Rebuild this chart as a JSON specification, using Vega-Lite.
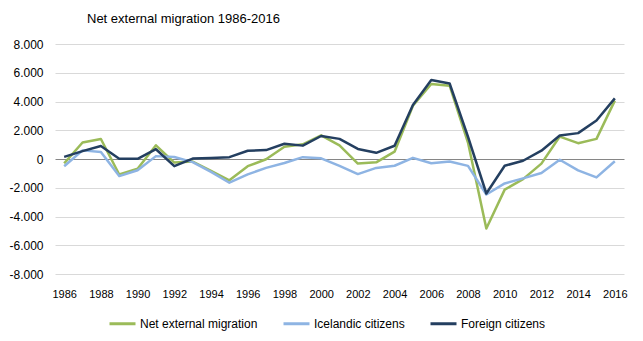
{
  "$schema": "https://vega.github.io/schema/vega-lite/v6.json",
  "autosize": {"type": "none"},
  "padding": {"left": 55, "top": 44, "right": 19, "bottom": 67},
  "width": 569,
  "height": 230,
  "background": "white",
  "title": {
    "text": "Net external migration 1986-2016",
    "anchor": "start",
    "frame": "group",
    "dx": 32,
    "offset": 12,
    "font": "Liberation Sans",
    "fontSize": 13,
    "fontWeight": "normal",
    "color": "#000000"
  },
  "config": {
    "view": {"stroke": null},
    "font": "Liberation Sans"
  },
  "data": {
    "values": [
      {"year": 1986, "series": "Net external migration", "value": -300},
      {"year": 1987, "series": "Net external migration", "value": 1150},
      {"year": 1988, "series": "Net external migration", "value": 1390},
      {"year": 1989, "series": "Net external migration", "value": -1080},
      {"year": 1990, "series": "Net external migration", "value": -680},
      {"year": 1991, "series": "Net external migration", "value": 950},
      {"year": 1992, "series": "Net external migration", "value": -250},
      {"year": 1993, "series": "Net external migration", "value": -180},
      {"year": 1994, "series": "Net external migration", "value": -830},
      {"year": 1995, "series": "Net external migration", "value": -1480},
      {"year": 1996, "series": "Net external migration", "value": -500},
      {"year": 1997, "series": "Net external migration", "value": -20},
      {"year": 1998, "series": "Net external migration", "value": 850},
      {"year": 1999, "series": "Net external migration", "value": 1020},
      {"year": 2000, "series": "Net external migration", "value": 1650},
      {"year": 2001, "series": "Net external migration", "value": 950},
      {"year": 2002, "series": "Net external migration", "value": -320},
      {"year": 2003, "series": "Net external migration", "value": -230},
      {"year": 2004, "series": "Net external migration", "value": 510},
      {"year": 2005, "series": "Net external migration", "value": 3700},
      {"year": 2006, "series": "Net external migration", "value": 5220},
      {"year": 2007, "series": "Net external migration", "value": 5100},
      {"year": 2008, "series": "Net external migration", "value": 1140},
      {"year": 2009, "series": "Net external migration", "value": -4840},
      {"year": 2010, "series": "Net external migration", "value": -2130},
      {"year": 2011, "series": "Net external migration", "value": -1400},
      {"year": 2012, "series": "Net external migration", "value": -320},
      {"year": 2013, "series": "Net external migration", "value": 1560},
      {"year": 2014, "series": "Net external migration", "value": 1100},
      {"year": 2015, "series": "Net external migration", "value": 1400},
      {"year": 2016, "series": "Net external migration", "value": 4060},
      {"year": 1986, "series": "Icelandic citizens", "value": -500},
      {"year": 1987, "series": "Icelandic citizens", "value": 600},
      {"year": 1988, "series": "Icelandic citizens", "value": 490},
      {"year": 1989, "series": "Icelandic citizens", "value": -1190},
      {"year": 1990, "series": "Icelandic citizens", "value": -780},
      {"year": 1991, "series": "Icelandic citizens", "value": 200},
      {"year": 1992, "series": "Icelandic citizens", "value": 140},
      {"year": 1993, "series": "Icelandic citizens", "value": -220},
      {"year": 1994, "series": "Icelandic citizens", "value": -900},
      {"year": 1995, "series": "Icelandic citizens", "value": -1650},
      {"year": 1996, "series": "Icelandic citizens", "value": -1070},
      {"year": 1997, "series": "Icelandic citizens", "value": -620},
      {"year": 1998, "series": "Icelandic citizens", "value": -280},
      {"year": 1999, "series": "Icelandic citizens", "value": 130},
      {"year": 2000, "series": "Icelandic citizens", "value": 50},
      {"year": 2001, "series": "Icelandic citizens", "value": -480},
      {"year": 2002, "series": "Icelandic citizens", "value": -1050},
      {"year": 2003, "series": "Icelandic citizens", "value": -620},
      {"year": 2004, "series": "Icelandic citizens", "value": -470},
      {"year": 2005, "series": "Icelandic citizens", "value": 80},
      {"year": 2006, "series": "Icelandic citizens", "value": -300},
      {"year": 2007, "series": "Icelandic citizens", "value": -170},
      {"year": 2008, "series": "Icelandic citizens", "value": -480},
      {"year": 2009, "series": "Icelandic citizens", "value": -2470},
      {"year": 2010, "series": "Icelandic citizens", "value": -1700},
      {"year": 2011, "series": "Icelandic citizens", "value": -1350},
      {"year": 2012, "series": "Icelandic citizens", "value": -970},
      {"year": 2013, "series": "Icelandic citizens", "value": -50},
      {"year": 2014, "series": "Icelandic citizens", "value": -790},
      {"year": 2015, "series": "Icelandic citizens", "value": -1280},
      {"year": 2016, "series": "Icelandic citizens", "value": -160},
      {"year": 1986, "series": "Foreign citizens", "value": 150},
      {"year": 1987, "series": "Foreign citizens", "value": 550},
      {"year": 1988, "series": "Foreign citizens", "value": 900},
      {"year": 1989, "series": "Foreign citizens", "value": 20},
      {"year": 1990, "series": "Foreign citizens", "value": 10},
      {"year": 1991, "series": "Foreign citizens", "value": 680},
      {"year": 1992, "series": "Foreign citizens", "value": -500},
      {"year": 1993, "series": "Foreign citizens", "value": 30},
      {"year": 1994, "series": "Foreign citizens", "value": 70},
      {"year": 1995, "series": "Foreign citizens", "value": 130},
      {"year": 1996, "series": "Foreign citizens", "value": 570},
      {"year": 1997, "series": "Foreign citizens", "value": 620},
      {"year": 1998, "series": "Foreign citizens", "value": 1060},
      {"year": 1999, "series": "Foreign citizens", "value": 930},
      {"year": 2000, "series": "Foreign citizens", "value": 1600},
      {"year": 2001, "series": "Foreign citizens", "value": 1400},
      {"year": 2002, "series": "Foreign citizens", "value": 700},
      {"year": 2003, "series": "Foreign citizens", "value": 430},
      {"year": 2004, "series": "Foreign citizens", "value": 920},
      {"year": 2005, "series": "Foreign citizens", "value": 3760},
      {"year": 2006, "series": "Foreign citizens", "value": 5500},
      {"year": 2007, "series": "Foreign citizens", "value": 5250},
      {"year": 2008, "series": "Foreign citizens", "value": 1550},
      {"year": 2009, "series": "Foreign citizens", "value": -2400},
      {"year": 2010, "series": "Foreign citizens", "value": -470},
      {"year": 2011, "series": "Foreign citizens", "value": -120},
      {"year": 2012, "series": "Foreign citizens", "value": 580},
      {"year": 2013, "series": "Foreign citizens", "value": 1630},
      {"year": 2014, "series": "Foreign citizens", "value": 1800},
      {"year": 2015, "series": "Foreign citizens", "value": 2680},
      {"year": 2016, "series": "Foreign citizens", "value": 4220}
    ]
  },
  "mark": {"type": "line", "strokeWidth": 2.5, "strokeJoin": "round"},
  "encoding": {
    "x": {
      "field": "year",
      "type": "quantitative",
      "scale": {"domain": [1985.5, 2016.5], "nice": false, "zero": false},
      "axis": {
        "title": null,
        "values": [1986, 1988, 1990, 1992, 1994, 1996, 1998, 2000, 2002, 2004, 2006, 2008, 2010, 2012, 2014, 2016],
        "format": "d",
        "grid": false,
        "domain": false,
        "ticks": false,
        "labelPadding": 14,
        "labelFontSize": 11,
        "labelColor": "#000000",
        "labelFont": "Liberation Sans",
        "labelFlush": false,
        "labelOverlap": false
      }
    },
    "y": {
      "field": "value",
      "type": "quantitative",
      "scale": {"domain": [-8000, 8000], "nice": false},
      "axis": {
        "title": null,
        "values": [-8000, -6000, -4000, -2000, 0, 2000, 4000, 6000, 8000],
        "labelExpr": "(datum.value < 0 ? '-' : '') + replace(format(abs(datum.value), ','), ',', '.')",
        "domain": false,
        "ticks": false,
        "labelPadding": 12,
        "labelFontSize": 12,
        "labelColor": "#000000",
        "labelFont": "Liberation Sans",
        "gridColor": {"condition": {"test": "datum.value === 0", "value": "#868686"}, "value": "#d9d9d9"},
        "gridWidth": 1
      }
    },
    "color": {
      "field": "series",
      "type": "nominal",
      "scale": {
        "domain": ["Net external migration", "Icelandic citizens", "Foreign citizens"],
        "range": ["#9bbb59", "#8eb4e3", "#243f60"]
      },
      "legend": {
        "title": null,
        "orient": "none",
        "direction": "horizontal",
        "legendX": 53,
        "legendY": 265,
        "symbolType": "stroke",
        "symbolSize": 676,
        "symbolStrokeWidth": 3,
        "labelFontSize": 12,
        "labelFont": "Liberation Sans",
        "labelColor": "#000000",
        "labelOffset": 3,
        "columnPadding": 19
      }
    }
  }
}
